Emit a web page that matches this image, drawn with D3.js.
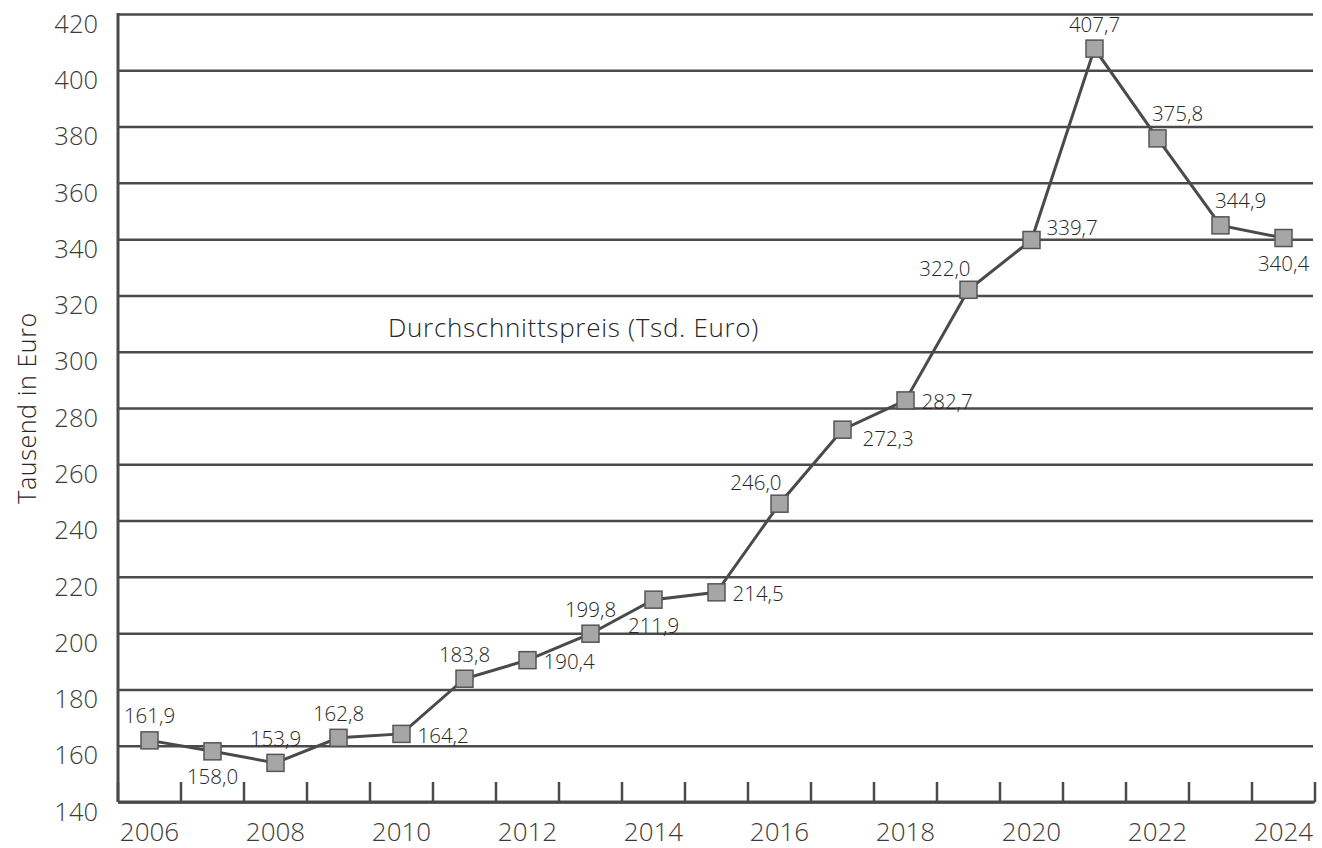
<!DOCTYPE html>
<html>
<head>
<meta charset="utf-8">
<script src="https://cdn.jsdelivr.net/npm/d3@7"></script>
<style>
  html, body { margin: 0; padding: 0; background: #fff; }
  svg, svg text { font-family: "Open Sans", "Noto Sans", sans-serif; font-weight: 300; }
  svg { display: block; }
</style>
</head>
<body>
<svg id="chart" width="1322" height="848"></svg>
<script>
// Durchschnittspreis in Tausend Euro, 2006–2024
const years = [2006, 2007, 2008, 2009, 2010, 2011, 2012, 2013, 2014, 2015,
               2016, 2017, 2018, 2019, 2020, 2021, 2022, 2023, 2024];
const prices = [161.9, 158.0, 153.9, 162.8, 164.2, 183.8, 190.4, 199.8, 211.9, 214.5,
                246.0, 272.3, 282.7, 322.0, 339.7, 407.7, 375.8, 344.9, 340.4];
// where each value label sits relative to its marker
const labelSide = ["above", "below", "above", "above", "right", "above", "right", "above", "below", "right",
                   "leftAbove", "rightBelow", "right", "leftAbove", "rightHigh", "above", "rightAbove", "rightAbove", "below"];
const yTicks = [140, 160, 180, 200, 220, 240, 260, 280, 300, 320, 340, 360, 380, 400, 420];
const xLabelYears = [2006, 2008, 2010, 2012, 2014, 2016, 2018, 2020, 2022, 2024];
const seriesName = "Durchschnittspreis (Tsd. Euro)";
const yTitle = "Tausend in Euro";

const svg = d3.select("#chart");
const mLeft = 118, mRight = 1315, mTop = 14, mBottom = 802;
const ink = "#4a4a4a";
const textInk = "#262626";
const tickInk = "#3a3a3a";

const x = d3.scaleBand().domain(years).range([mLeft, mRight]).padding(0);
const y = d3.scaleLinear().domain([140, 420]).range([mBottom, mTop]);
const cx = d => x(d) + x.bandwidth() / 2;

// horizontal gridlines with value labels
const yAxis = d3.axisLeft(y).tickValues(yTicks).tickSize(-(mRight - 2 - mLeft)).tickPadding(20).tickFormat(d3.format("d"));
const gy = svg.append("g").attr("transform", `translate(${mLeft},0)`).call(yAxis)
  .attr("font-family", null).attr("font-size", null);
gy.select(".domain").remove();
gy.selectAll(".tick line").attr("stroke", ink).attr("stroke-width", 2.5);
gy.selectAll(".tick text")
  .attr("fill", tickInk).attr("font-size", 25.5).attr("dy", "0.32em")
  .attr("transform", "translate(0,10)");

// left axis line
svg.append("line").attr("x1", mLeft).attr("x2", mLeft).attr("y1", mTop - 1).attr("y2", mBottom)
  .attr("stroke", ink).attr("stroke-width", 3);

// bottom axis with ticks between the years
svg.append("line").attr("x1", mLeft).attr("x2", mRight).attr("y1", mBottom).attr("y2", mBottom)
  .attr("stroke", ink).attr("stroke-width", 3);
const edges = years.map(d => x(d)).concat([mRight]);
svg.append("g").selectAll("line").data(edges).join("line")
  .attr("x1", d => d).attr("x2", d => d).attr("y1", mBottom - 20).attr("y2", mBottom)
  .attr("stroke", ink).attr("stroke-width", 2.5);
svg.append("g").selectAll("text").data(xLabelYears).join("text")
  .attr("x", d => cx(d)).attr("y", 841).attr("text-anchor", "middle")
  .attr("font-size", 26).attr("fill", tickInk).text(d => d);

// axis title
svg.append("text").attr("transform", `translate(36,${(mTop + mBottom) / 2}) rotate(-90)`)
  .attr("text-anchor", "middle").attr("font-size", 25).attr("letter-spacing", 0.6)
  .attr("fill", textInk).text(yTitle);

// series name
svg.append("text").attr("x", 388).attr("y", 337).attr("font-size", 26).attr("letter-spacing", 0.7)
  .attr("fill", textInk).text(seriesName);

const pts = years.map((d, i) => ({ year: d, value: prices[i], side: labelSide[i] }));

// line
svg.append("path").datum(pts)
  .attr("fill", "none").attr("stroke", ink).attr("stroke-width", 3)
  .attr("d", d3.line().x(d => cx(d.year)).y(d => y(d.value)));

// square markers
const s = 17;
svg.append("g").selectAll("rect").data(pts).join("rect")
  .attr("x", d => cx(d.year) - s / 2).attr("y", d => y(d.value) - s / 2)
  .attr("width", s).attr("height", s)
  .attr("fill", "#a6a6a6").attr("stroke", "#555").attr("stroke-width", 1.5);

// value labels
const place = {
  above:      { dx: 0,  dy: -17, anchor: "middle" },
  below:      { dx: 0,  dy: 33,  anchor: "middle" },
  right:      { dx: 16, dy: 9,   anchor: "start" },
  rightHigh:  { dx: 15, dy: -5,  anchor: "start" },
  rightBelow: { dx: 20, dy: 16,  anchor: "start" },
  rightAbove: { dx: 20, dy: -17, anchor: "middle" },
  leftAbove:  { dx: 2,  dy: -14, anchor: "end" }
};
const fmt = v => d3.format(".1f")(v).replace(".", ",");
svg.append("g").selectAll("text").data(pts).join("text")
  .attr("x", d => cx(d.year) + place[d.side].dx)
  .attr("y", d => y(d.value) + place[d.side].dy)
  .attr("text-anchor", d => place[d.side].anchor)
  .attr("font-size", 20.5).attr("fill", textInk)
  .text(d => fmt(d.value));
</script>
</body>
</html>
